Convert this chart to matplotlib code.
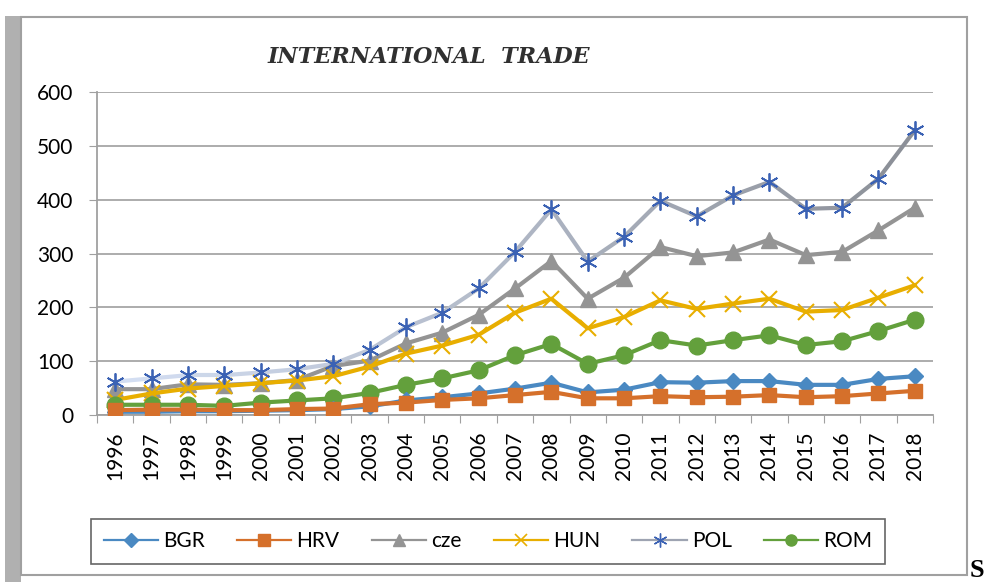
import numpy as np
import matplotlib
matplotlib.use('Agg')
from matplotlib import pyplot as plt
from matplotlib.patches import Rectangle
from matplotlib.lines import Line2D

# data
years = [str(y) for y in range(1996, 2019)]
bgr = [6, 6, 7, 7, 8, 9, 11, 16, 27, 33, 40, 49, 60, 42, 47, 61, 60, 63, 63, 56, 56, 67, 72]
hrv = [9, 10, 10, 9, 9, 11, 12, 20, 23, 28, 31, 37, 43, 31, 31, 35, 33, 34, 37, 33, 35, 40, 45]
cze = [48, 48, 57, 56, 59, 65, 91, 101, 133, 153, 186, 235, 286, 216, 255, 312, 295, 302, 326, 297, 303, 343, 385]
hun = [28, 40, 49, 54, 59, 64, 72, 90, 114, 129, 149, 190, 216, 161, 182, 213, 197, 207, 216, 192, 195, 218, 241]
pol = [62, 68, 74, 74, 79, 85, 95, 121, 163, 190, 235, 303, 382, 285, 331, 398, 369, 408, 433, 383, 385, 439, 529]
rom = [19, 19, 19, 17, 23, 27, 31, 41, 56, 68, 83, 111, 132, 95, 111, 139, 129, 139, 148, 130, 137, 156, 177]

plt.rcParams['font.family'] = ['Lato', 'DejaVu Sans']

fig = plt.figure(figsize=(9.87, 5.82), dpi=100)
fig.patch.set_facecolor('white')

# chart frame with shadow on the left
fig.patches.append(Rectangle((0.005, 0.0), 0.016, 0.972, transform=fig.transFigure,
                             facecolor='#b0b0b0', edgecolor='none', zorder=-2))
fig.patches.append(Rectangle((0.021, 0.012), 0.959, 0.958, transform=fig.transFigure,
                             facecolor='none', edgecolor='#a0a0a0', lw=1.5, zorder=-1))

ax = fig.add_axes([97 / 987, 1 - 415 / 582, 836 / 987, 323 / 582])
x = np.arange(len(years))

lw = 3.0
ax.plot(x, bgr, color='#4a89c2', lw=lw, marker='D', ms=8, label='BGR', zorder=5)
ax.plot(x, hrv, color='#d5702b', lw=lw, marker='s', ms=10, label='HRV', zorder=6)
ax.plot(x, cze, color='#949494', lw=lw, marker='^', ms=11, label='cze', zorder=4)
ax.plot(x, hun, color='#e8ae00', lw=lw, marker='x', ms=11, mew=1.5, label='HUN', zorder=4)

# POL line fades from light blue to grey
c0 = np.array(matplotlib.colors.to_rgb('#d3def2'))
c1 = np.array(matplotlib.colors.to_rgb('#8c9098'))
for i in range(len(x) - 1):
    t = i / (len(x) - 2)
    ax.plot(x[i:i + 2], pol[i:i + 2], color=c0 * (1 - t) + c1 * t, lw=lw,
            solid_capstyle='round', zorder=3)
ax.plot(x, pol, ls='none', marker=(6, 2, 0), ms=13, mew=1.3, color='#3b62b4', zorder=4)

ax.plot(x, rom, color='#63a03c', lw=lw, marker='o', ms=12, label='ROM', zorder=4)

ax.set_xlim(-0.5, len(years) - 0.5)
ax.set_ylim(0, 600)
ax.set_yticks(range(0, 601, 100))
ax.yaxis.grid(True, color='#a6a6a6', lw=1.3)
ax.set_axisbelow(True)

ax.set_xticks(np.arange(-0.5, len(years)), minor=False)
ax.set_xticklabels([])
ax.set_xticks(x, minor=True)
ax.set_xticklabels(years, minor=True, rotation=90, fontsize=15)
ax.tick_params(axis='x', which='major', direction='out', length=6, color='#a0a0a0')
ax.tick_params(axis='x', which='minor', length=0, pad=12)
ax.tick_params(axis='y', direction='out', length=6, color='#a0a0a0', labelsize=15, pad=11)

for s in ['top', 'right']:
    ax.spines[s].set_visible(False)
ax.spines['left'].set_color('#a0a0a0')
ax.spines['bottom'].set_color('#a0a0a0')
ax.spines['left'].set_linewidth(1.3)
ax.spines['bottom'].set_linewidth(1.3)

fig.text(0.434, 0.902, 'INTERNATIONAL  TRADE', fontsize=16, fontstyle='italic',
         fontweight='bold', family='DejaVu Serif', color='#303030', ha='center', va='center')

hl = 1.6
handles = [
    Line2D([], [], color='#4a89c2', lw=hl, marker='D', ms=7),
    Line2D([], [], color='#d5702b', lw=hl, marker='s', ms=8),
    Line2D([], [], color='#949494', lw=hl, marker='^', ms=8),
    Line2D([], [], color='#e8ae00', lw=hl, marker='x', ms=9, mew=1.2),
    Line2D([], [], color='#9ea4b2', lw=hl, marker=(6, 2, 0), ms=10, mew=1, mec='#3b62b4'),
    Line2D([], [], color='#63a03c', lw=hl, marker='o', ms=8),
]
leg = fig.legend(handles, ['BGR', 'HRV', 'cze', 'HUN', 'POL', 'ROM'], ncol=6,
                 loc='center', bbox_to_anchor=(488 / 987, 1 - 541 / 582),
                 fontsize=15, frameon=True, fancybox=False, handlelength=2.6,
                 columnspacing=1.55, handletextpad=0.25, borderpad=0.6, borderaxespad=0)
leg.get_frame().set_edgecolor('#404040')
leg.get_frame().set_linewidth(1.2)

fig.text(0.982, 0.02, 'S', fontsize=19, fontweight='bold', family='Liberation Serif',
         ha='left', va='center')

fig.savefig('out.png', dpi=100)
